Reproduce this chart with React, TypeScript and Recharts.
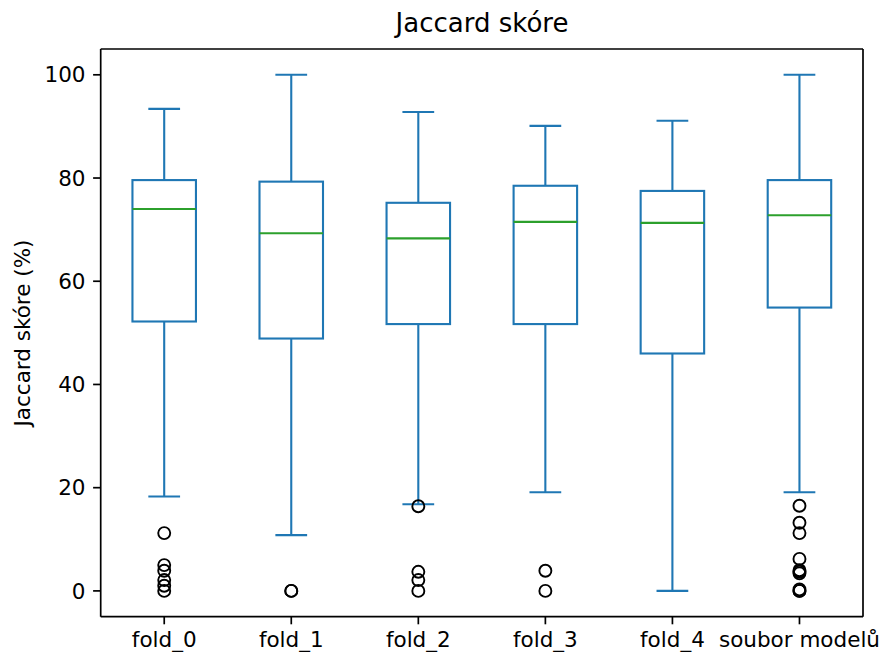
import React from 'react';
import { ComposedChart, Bar, Scatter, XAxis, YAxis } from 'recharts';

const categories = ['fold_0', 'fold_1', 'fold_2', 'fold_3', 'fold_4', 'soubor modelů'];
const whiskerLow = [18.3, 10.8, 16.8, 19.1, 0, 19.1];
const quartile1 = [52.2, 48.9, 51.7, 51.7, 46.0, 54.9];
const medians = [74.0, 69.3, 68.3, 71.5, 71.3, 72.8];
const quartile3 = [79.6, 79.3, 75.2, 78.5, 77.5, 79.6];
const whiskerHigh = [93.4, 100, 92.8, 90.1, 91.1, 100];
const fliers: number[][] = [
  [11.2, 5.0, 3.9, 2.1, 1.0, 0],
  [0, 0],
  [16.4, 3.7, 2.1, 0],
  [3.9, 0],
  [],
  [16.5, 13.2, 11.2, 6.2, 4.0, 3.7, 3.4, 0.3, 0, 0],
];
const yTicks = [0, 20, 40, 60, 80, 100];

const boxData = categories.map((name, i) => ({
  name,
  lo: whiskerLow[i],
  q1: quartile1[i],
  med: medians[i],
  q3: quartile3[i],
  hi: whiskerHigh[i],
}));

const flierData = categories.flatMap((name, i) => fliers[i].map((v) => ({ name, v })));

const FONT = 'DejaVu Sans, sans-serif';
const BLUE = '#1f77b4';
const GREEN = '#2ca02c';
const LW = 2.1;

const PLOT = { left: 100.7, top: 49, right: 863, bottom: 616.7 };

const BoxShape = (props: any) => {
  const { x, y, width, height, payload } = props;
  if (payload == null || height == null) return null;
  const { lo, q1, med, q3, hi } = payload;
  const k = height / (hi - lo);
  const py = (v: number) => y + (hi - v) * k;
  const cx = x + width / 2;
  const bw = width / 2;
  const cw = width / 4;
  return (
    <g>
      <line x1={cx} x2={cx} y1={py(q3)} y2={py(hi)} stroke={BLUE} strokeWidth={LW} />
      <line x1={cx} x2={cx} y1={py(q1)} y2={py(lo)} stroke={BLUE} strokeWidth={LW} />
      <line x1={cx - cw / 2} x2={cx + cw / 2} y1={py(hi)} y2={py(hi)} stroke={BLUE} strokeWidth={LW} />
      <line x1={cx - cw / 2} x2={cx + cw / 2} y1={py(lo)} y2={py(lo)} stroke={BLUE} strokeWidth={LW} />
      <rect x={cx - bw / 2} y={py(q3)} width={bw} height={py(q1) - py(q3)} fill="none" stroke={BLUE} strokeWidth={LW} />
      <line x1={cx - bw / 2} x2={cx + bw / 2} y1={py(med)} y2={py(med)} stroke={GREEN} strokeWidth={LW} />
    </g>
  );
};

const FlierShape = (props: any) => {
  const { cx, cy } = props;
  if (cx == null || cy == null || isNaN(cx) || isNaN(cy)) return null;
  return <circle cx={cx} cy={cy} r={6} fill="none" stroke="#000" strokeWidth={1.9} />;
};

const tickStyle = { fill: '#000', fontSize: 21.5, fontFamily: FONT };

export default function App() {
  return (
    <div style={{ position: 'absolute', left: 0, top: 0, width: 882, height: 652, background: '#fff' }}>
      <ComposedChart
        width={882}
        height={652}
        data={boxData}
        margin={{ top: 49, right: 19, bottom: 0, left: 0 }}
        barCategoryGap="0%"
      >
        <XAxis
          dataKey="name"
          type="category"
          allowDuplicatedCategory={false}
          height={35.3}
          tick={tickStyle}
          tickSize={7.6}
          tickMargin={7.6}
          tickLine={{ stroke: '#000', strokeWidth: 1.7 }}
          axisLine={{ stroke: '#000', strokeWidth: 1.7 }}
          interval={0}
        />
        <YAxis
          type="number"
          domain={[-5, 105]}
          ticks={yTicks}
          width={100.7}
          tick={tickStyle}
          tickSize={7.6}
          tickMargin={7.6}
          tickLine={{ stroke: '#000', strokeWidth: 1.7 }}
          axisLine={{ stroke: '#000', strokeWidth: 1.7 }}
          allowDataOverflow
        />
        <Bar
          data={boxData}
          dataKey={(d: any) => [d.lo, d.hi]}
          shape={BoxShape}
          isAnimationActive={false}
        />
        <Scatter
          data={flierData}
          dataKey="v"
          shape={FlierShape}
          isAnimationActive={false}
        />
      </ComposedChart>
      <svg
        width={882}
        height={652}
        style={{ position: 'absolute', left: 0, top: 0, pointerEvents: 'none' }}
      >
        <line x1={PLOT.left} x2={PLOT.right} y1={PLOT.top} y2={PLOT.top} stroke="#000" strokeWidth={1.7} />
        <line x1={PLOT.right} x2={PLOT.right} y1={PLOT.top} y2={PLOT.bottom} stroke="#000" strokeWidth={1.7} />
        <text x={482} y={32} textAnchor="middle" fontFamily={FONT} fontSize={26} fill="#000">
          Jaccard skóre
        </text>
        <text
          x={29.5}
          y={333}
          textAnchor="middle"
          fontFamily={FONT}
          fontSize={21.5}
          fill="#000"
          transform="rotate(-90 29.5 333)"
        >
          Jaccard skóre (%)
        </text>
      </svg>
    </div>
  );
}
